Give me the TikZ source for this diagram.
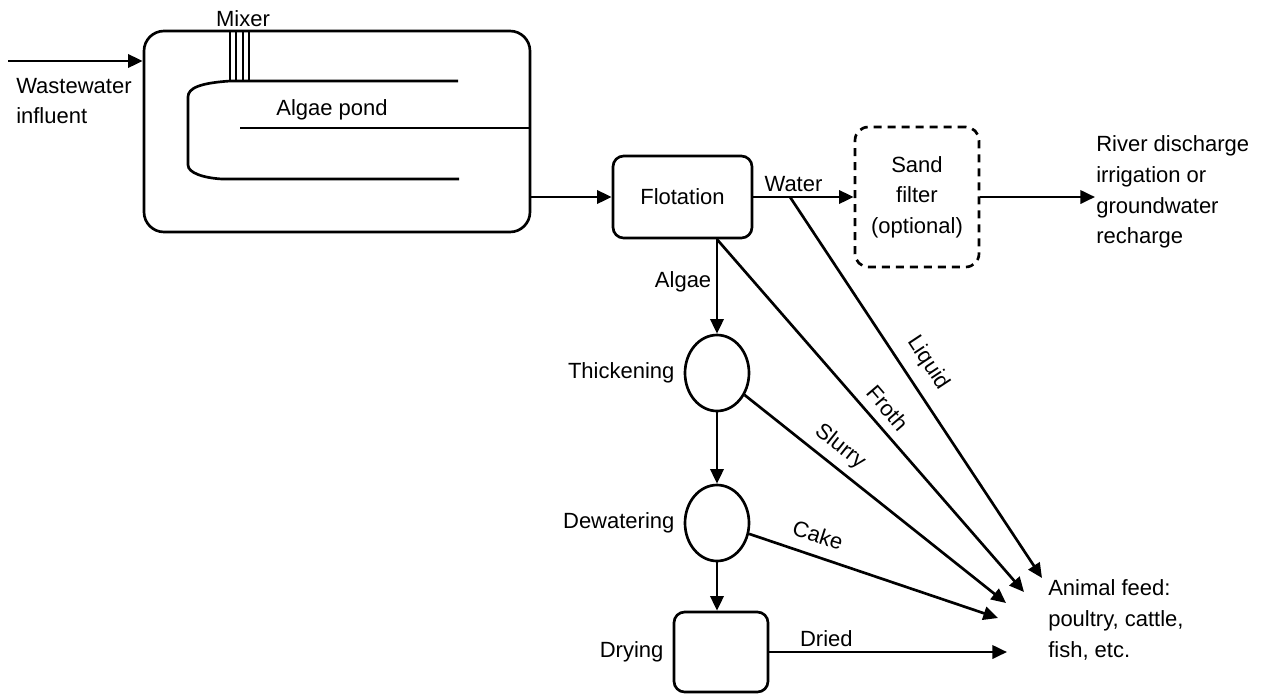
\documentclass[tikz,border=0pt]{standalone}
\usepackage{fontspec}
\setmainfont{Liberation Sans}
\usetikzlibrary{arrows.meta,positioning,shapes.geometric}

\tikzset{
  flow/.style={line width=2pt,-{Triangle[length=11pt,width=10pt]}},
  pipe/.style={line width=2pt},
  unitbox/.style={draw,line width=2pt,rounded corners=8pt,inner sep=0pt},
  tank/.style={draw,ellipse,line width=2pt,minimum width=48pt,minimum height=57pt,inner sep=0pt},
  lbl/.style={inner sep=0.75pt,align=left},
}

\begin{document}
\begin{tikzpicture}[x=0.75pt,y=0.75pt,yscale=-1,xscale=1,every node/.style={font=\fontsize{16.5}{23}\selectfont}]
\useasboundingbox (0,0) rectangle (1263,694);

% Process units
\node [unitbox,rounded corners=15pt,minimum width=289.5pt,minimum height=150.75pt] (pond) at (337,131.5) {};
\node [unitbox,minimum width=104.25pt,minimum height=61.5pt] (flot) at (682.5,197) {Flotation};
\node [unitbox,dash pattern=on 6pt off 4.5pt,rounded corners=10pt,minimum width=93pt,minimum height=105pt,align=center] (sand) at (917,197) {Sand\\filter\\(optional)};
\node [tank] (thick) at (717,373) {};
\node [tank] (dewat) at (717,523) {};
\node [unitbox,minimum width=70.5pt,minimum height=60pt] (dry) at (721,652) {};

% Mixer
\foreach \mx/\lw in {230/2,236/0.8,243/0.8,249/2}
  \draw [line width=\lw pt] (\mx,81) -- (\mx,31);
% Pond channels
\draw [pipe] (458,81) -- (230,81) .. controls (200,83) and (188,88) .. (188,97) -- (188,165) .. controls (188,173) and (204,178) .. (222,179) -- (459,179);
\draw [pipe] (240,128) -- (pond.east |- 0,128);

% Text Node
\node [lbl] (mixlbl) at (243,19) {Mixer};
% Text Node
\node [lbl] (pondlbl) at (332,110) {Algae pond};
% Text Node
\node [lbl,anchor=west] (inflbl) at (15,101) {Wastewater\\influent};
% Text Node
\node [lbl,anchor=west] (river) at (1095,192) {River discharge\\irrigation or\\groundwater\\recharge};
% Text Node
\node [lbl,anchor=west] (feed) at (1047,620) {Animal feed:\\poultry, cattle,\\fish, etc.};
% Text Node
\node [lbl,left=6pt of thick] (thicklbl) {Thickening};
% Text Node
\node [lbl,left=6pt of dewat] (dewatlbl) {Dewatering};
% Text Node
\node [lbl,left=6pt of dry] (drylbl) {Drying};
% Text Node
\node [lbl,rotate=-56.5] (liqlbl) at (928,363) {Liquid};
% Text Node
\node [lbl,rotate=-49.4] (frothlbl) at (888,408) {Froth};
% Text Node
\node [lbl,rotate=-38.5] (slurlbl) at (840,447) {Slurry};
% Text Node
\node [lbl,rotate=-18] (cakelbl) at (818,535) {Cake};

% Free ends
\coordinate (inlet) at (8,61);
\coordinate (split) at (790,197);
\coordinate (algout) at (flot.south -| thick.north);
\coordinate (liqend) at (1042,578);
\coordinate (frothend) at (1024,592);
\coordinate (slurend) at (1006,603);
\coordinate (cakeend) at (998,618);
\coordinate (driedend) at (1007,652);

% Main line
\draw [flow] (inlet) -- (inlet -| pond.west);
\draw [flow] (pond.east |- flot.west) -- (flot.west);
\draw [flow] (flot.east) -- node [pos=0.4,above] (waterlbl) {Water} (sand.west);
\draw [flow] (sand.east) -- (sand.east -| river.west);

% Algae train
\draw [flow] (algout) -- node [pos=0.45,left] (alglbl) {Algae} (thick.north);
\draw [flow] (thick) -- (dewat);
\draw [flow] (dewat.south) -- (dewat.south |- dry.north);

% Products to feed
\draw [flow] (split) -- (liqend);
\draw [flow] (algout) -- (frothend);
\draw [flow] (thick) -- (slurend);
\draw [flow] (dewat) -- (cakeend);
\draw [flow] (dry.east |- driedend) -- node [pos=0.24,above] (driedlbl) {Dried} (driedend);

\end{tikzpicture}
\end{document}
